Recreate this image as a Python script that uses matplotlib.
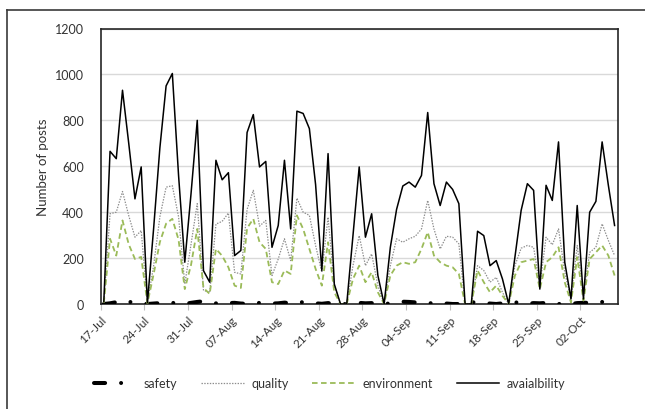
import matplotlib
matplotlib.use("Agg")
import matplotlib.pyplot as plt
from matplotlib.lines import Line2D
import numpy as np

plt.rcParams['font.family'] = ['Lato', 'DejaVu Sans']
plt.rcParams['lines.scale_dashes'] = False

n_days = 83
tick_labels = ["17-Jul", "24-Jul", "31-Jul", "07-Aug", "14-Aug", "21-Aug", "28-Aug",
               "04-Sep", "11-Sep", "18-Sep", "25-Sep", "02-Oct"]

safety = [0, 3, 8, 15, 10, 5, 4, 0, 2, 4, 6, 5, 3, 1, 5, 9, 12, 6, 3, 2,
          4, 5, 2, 1, 3, 5, 4, 2, 3, 6, 4, 7, 8, 5, 3, 1, 4, 2, 0, 0,
          2, 5, 3, 4, 1, 0, 3, 8, 10, 9, 7, 5, 4, 3, 5, 2, 0, 0, 4, 8,
          6, 5, 2, 0, 3, 5, 7, 6, 1, 4, 3, 5, 2, 0, 3, 0, 4, 5, 6, 8,
          9, 7, 5]

quality = [5, 393, 400, 490, 385, 291, 320, 5, 167, 380, 509, 515, 380, 87, 260, 437, 60, 50, 348, 360,
           396, 138, 131, 412, 495, 339, 364, 124, 196, 284, 189, 461, 400, 386, 255, 138, 378, 80, 0, 0,
           167, 298, 167, 218, 80, 0, 167, 284, 269, 284, 295, 327, 451, 327, 240, 295, 291, 262, 0, 0,
           167, 146, 95, 116, 51, 0, 167, 243, 255, 247, 80, 291, 258, 327, 138, 22, 255, 36, 225, 247,
           349, 277, 211]

environment = [5, 284, 211, 364, 260, 196, 205, 3, 130, 270, 350, 371, 280, 65, 170, 327, 70, 44, 240, 210,
               160, 80, 70, 330, 371, 269, 240, 95, 87, 146, 131, 386, 327, 240, 153, 80, 269, 51, 0, 0,
               109, 167, 95, 138, 51, 0, 124, 167, 182, 175, 182, 240, 313, 211, 182, 167, 160, 131, 0, 0,
               146, 95, 51, 80, 36, 0, 124, 182, 189, 196, 65, 182, 204, 247, 95, 7, 204, 15, 196, 225,
               255, 211, 124]

availability = [10, 665, 633, 931, 700, 458, 597, 5, 330, 680, 950, 1004, 560, 182, 480, 800, 145, 95, 626, 541,
                572, 211, 233, 747, 825, 597, 621, 247, 342, 626, 327, 840, 830, 764, 520, 146, 655, 87, 0, 0,
                298, 597, 291, 393, 124, 0, 247, 412, 514, 531, 509, 560, 834, 524, 429, 531, 499, 437, 0, 0,
                317, 298, 167, 189, 109, 0, 204, 408, 524, 495, 65, 517, 451, 706, 182, 22, 429, 22, 400, 447,
                706, 517, 342]

W, H = 645, 410
fig = plt.figure(figsize=(W / 100, H / 100), dpi=100)

# outer chart frame (cropped at right and bottom)
fig.add_artist(Line2D([7 / W, 7 / W], [0, 1 - 11 / H], transform=fig.transFigure,
                      color='#3a3a3a', lw=1.2))
fig.add_artist(Line2D([7 / W, 1.0], [1 - 11 / H, 1 - 11 / H], transform=fig.transFigure,
                      color='#3a3a3a', lw=1.2))

left, right, top, bottom = 100.7, 617.7, 29.5, 305
ax = fig.add_axes([left / W, 1 - bottom / H, (right - left) / W, (bottom - top) / H])

x = np.arange(n_days) + 0.5

ax.plot(x, safety, color='black', lw=2.9, dashes=(8, 11.5, 0.01, 11.5), solid_capstyle='round',
        dash_capstyle='round', label='safety', zorder=3)
ax.plot(x, quality, color='#8c8c8c', lw=0.9, dashes=(1, 1), label='quality', zorder=4)
ax.plot(x, environment, color='#9bbb59', lw=1.3, dashes=(4, 2.5), label='environment', zorder=5)
ax.plot(x, availability, color='black', lw=1.1, label='avaialbility', zorder=6)

ax.set_xlim(0, n_days)
ax.set_ylim(0, 1200)
ax.set_yticks(np.arange(0, 1201, 200))
ax.set_xticks(np.arange(0, n_days, 7))
ax.set_xticklabels(tick_labels, rotation=45, ha='right', rotation_mode='anchor', fontsize=8.5)
ax.tick_params(axis='y', length=0, pad=12, labelsize=9, labelcolor='#333333')
ax.tick_params(axis='x', length=4, width=0.8, color='#bfbfbf', direction='out', pad=3,
               labelcolor='#333333')
ax.grid(axis='y', color='#d9d9d9', lw=1)
ax.set_axisbelow(True)
for s in ax.spines.values():
    s.set_color('#262626')
    s.set_linewidth(1.2)

ax.set_ylabel('Number of posts', fontsize=9.5, labelpad=4, color='#333333')

leg = fig.legend(loc='center', bbox_to_anchor=(0.511, 1 - 384 / H), ncol=4, frameon=False,
                 fontsize=9, handlelength=3.4, columnspacing=1.9, handletextpad=0.6)
for t in leg.get_texts():
    t.set_color('#333333')

fig.savefig('out.png', dpi=100)
